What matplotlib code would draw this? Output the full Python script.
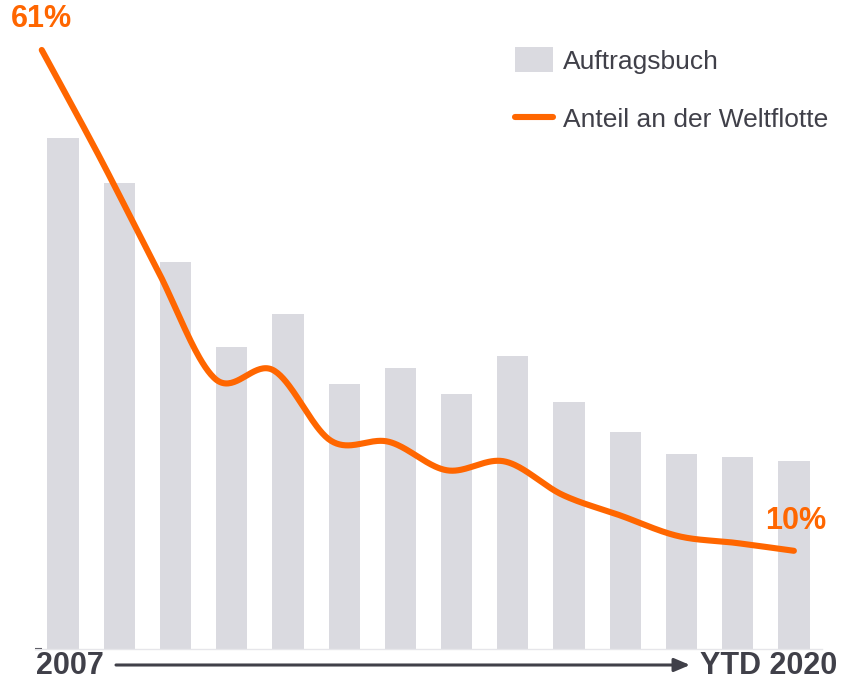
"""
Auftragsbuch vs. Anteil an der Weltflotte, 2007 bis YTD 2020.

Grey bars for the order book, smoothed orange line for its share of the world fleet.
Values are read off the reference picture (same scale for both series, 0 at the baseline).
"""

import matplotlib

matplotlib.use("Agg")
import matplotlib.pyplot as plt
import numpy as np
from matplotlib.lines import Line2D
from matplotlib.patches import Patch


# ===== Data =====
YEARS = ["2007", "2008", "2009", "2010", "2011", "2012", "2013",
         "2014", "2015", "2016", "2017", "2018", "2019", "2020"]
ORDERBOOK = [52.0, 47.5, 39.4, 30.8, 34.1, 27.0, 28.6,
             26.0, 29.8, 25.2, 22.1, 19.9, 19.6, 19.1]
FLEET_SHARE = [61.0, 50.1, 38.6, 27.5, 28.4, 21.2, 21.1,
               18.2, 19.1, 15.7, 13.6, 11.5, 10.8, 10.0]
FIRST_LABEL = "2007"
LAST_LABEL = "YTD 2020"
LEGEND_LABELS = ["Auftragsbuch", "Anteil an der Weltflotte"]

# ===== Style =====
ORANGE = "#FF6600"
BAR_GREY = "#DADAE0"
TEXT_DARK = "#404049"
BASELINE = "#E6E6EA"
FONT = "Liberation Sans"

W, H = 844, 682


def px(x, y):
    """Pixel position (from top-left) -> figure fraction."""
    return x / W, 1 - y / H


def catmull_rom(x, y, steps=40):
    """Smooth curve through the points (like the spreadsheet 'smoothed line')."""
    pts = np.column_stack([x, y]).astype(float)
    padded = np.vstack([pts[0], pts, pts[-1]])
    t = np.linspace(0, 1, steps, endpoint=False)[:, None]
    out = []
    for i in range(1, len(padded) - 2):
        p0, p1, p2, p3 = padded[i - 1:i + 3]
        seg = 0.5 * (2 * p1 + (-p0 + p2) * t
                     + (2 * p0 - 5 * p1 + 4 * p2 - p3) * t ** 2
                     + (-p0 + 3 * p1 - 3 * p2 + p3) * t ** 3)
        out.append(seg)
    out.append(pts[-1:])
    res = np.vstack(out)
    return res[:, 0], res[:, 1]


def main() -> None:
    plt.rcParams["font.family"] = [FONT, "DejaVu Sans"]

    fig = plt.figure(figsize=(W / 100, H / 100), dpi=100)
    left, bottom = px(35, 649)
    right, top = px(822, 30)
    ax = fig.add_axes([left, bottom, right - left, top - bottom])

    n = len(YEARS)
    x = np.arange(n)
    ax.bar(x, ORDERBOOK, width=0.557, color=BAR_GREY, zorder=1)

    # the line runs on its own, slightly wider category spacing
    line_x = np.linspace(-0.38, n - 1, n)
    sx, sy = catmull_rom(line_x, FLEET_SHARE)
    ax.plot(sx, sy, color=ORANGE, lw=4.4, solid_capstyle="round", zorder=3)

    ax.set_xlim(-0.5, n - 0.5)
    ax.set_ylim(0, 619 / 9.82)

    for side in ("left", "top", "right"):
        ax.spines[side].set_visible(False)
    ax.spines["bottom"].set_color(BASELINE)
    ax.spines["bottom"].set_linewidth(1.0)
    ax.set_xticks([])
    ax.set_yticks([0])
    ax.tick_params(axis="y", direction="in", length=5, width=1.5,
                   color=TEXT_DARK, labelleft=False)

    # end labels of the share line
    ax.annotate(f"{FLEET_SHARE[0]:.0f}%", (line_x[0], FLEET_SHARE[0]),
                xytext=(0, 22.3), textcoords="offset points",
                ha="center", va="center", fontsize=22, fontweight="bold",
                color=ORANGE)
    ax.annotate(f"{FLEET_SHARE[-1]:.0f}%", (line_x[-1], FLEET_SHARE[-1]),
                xytext=(1, 21.6), textcoords="offset points",
                ha="center", va="center", fontsize=22, fontweight="bold",
                color=ORANGE)

    # time axis: 2007 -> YTD 2020
    fig.text(*px(69.5, 666), FIRST_LABEL, ha="center", va="center",
             fontsize=22, fontweight="bold", color=TEXT_DARK)
    fig.text(*px(769, 666), LAST_LABEL, ha="center", va="center",
             fontsize=22, fontweight="bold", color=TEXT_DARK)
    ax.annotate("", xy=(690, H - 665), xytext=(116, H - 665),
                xycoords="figure pixels", textcoords="figure pixels",
                arrowprops=dict(arrowstyle="-|>,head_length=0.94,head_width=0.4",
                                mutation_scale=10, lw=2.2, color=TEXT_DARK,
                                shrinkA=0, shrinkB=0))

    handles = [
        Patch(facecolor=BAR_GREY, edgecolor="none"),
        Line2D([0], [0], color=ORANGE, lw=4.4, solid_capstyle="round"),
    ]
    fig.legend(handles, LEGEND_LABELS, loc="upper left",
               bbox_to_anchor=px(515, 47), frameon=False, fontsize=19,
               labelcolor=TEXT_DARK, handlelength=1.43, handleheight=1.1,
               handletextpad=0.38, labelspacing=1.22, borderpad=0,
               borderaxespad=0)

    fig.savefig("out.png", dpi=100)


if __name__ == "__main__":
    main()
